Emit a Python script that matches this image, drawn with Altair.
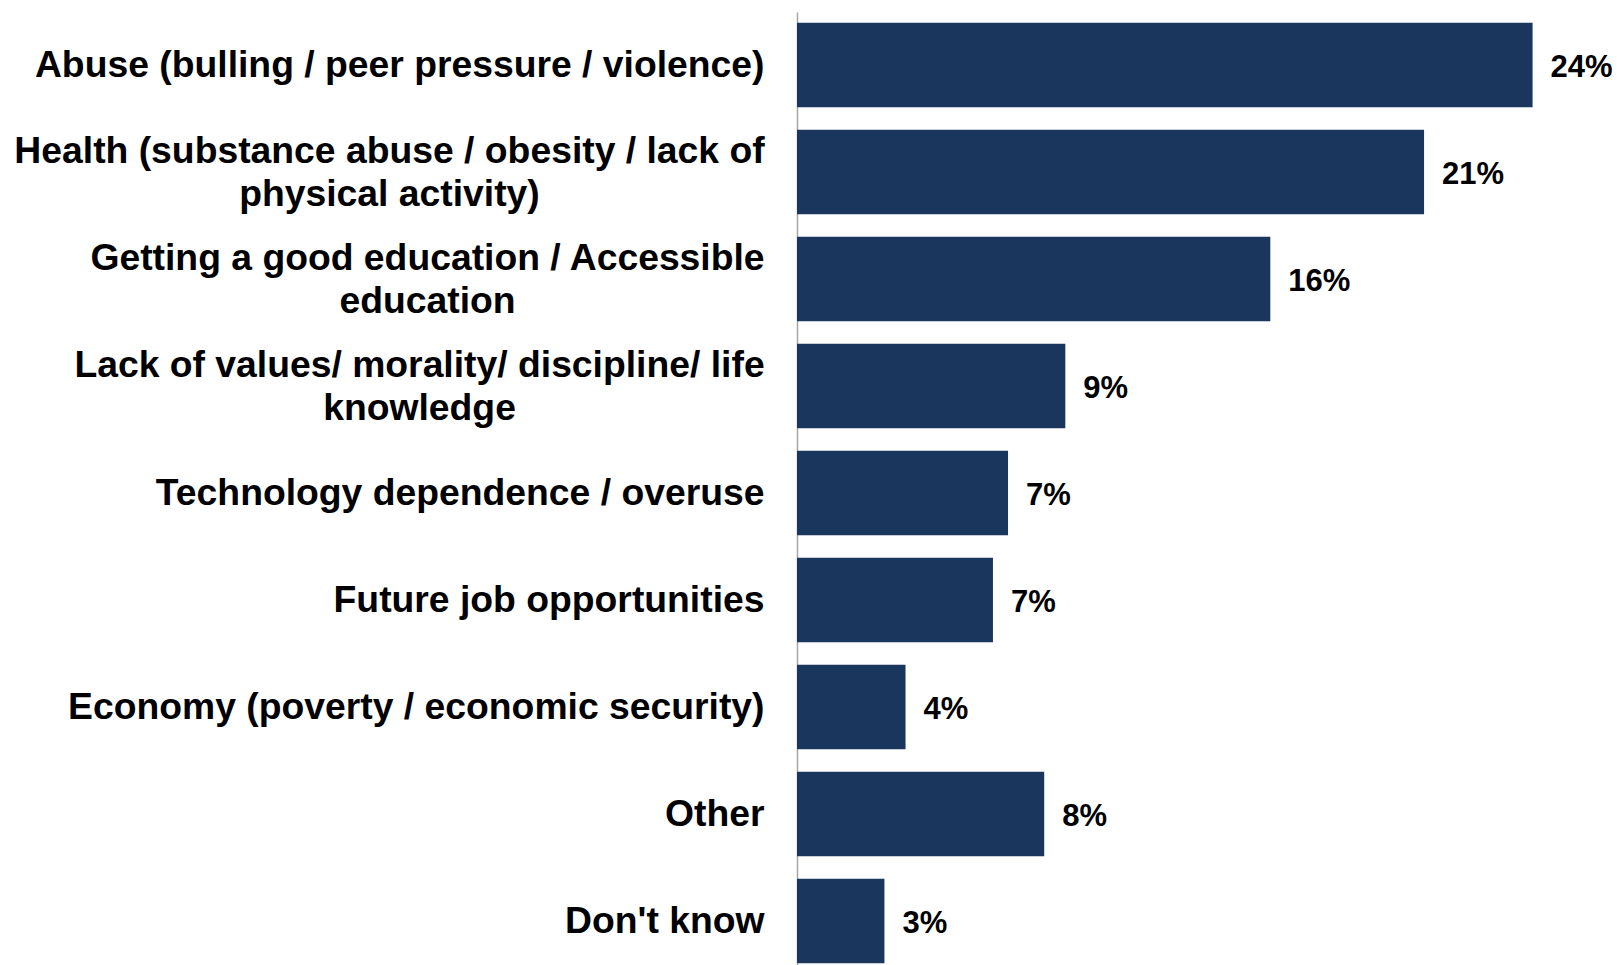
import altair as alt
import pandas as pd

line1 = [
    "Abuse (bulling / peer pressure / violence)",
    "Health (substance abuse / obesity / lack of",
    "Getting a good education / Accessible",
    "Lack of values/ morality/ discipline/ life",
    "Technology dependence / overuse",
    "Future job opportunities",
    "Economy (poverty / economic security)",
    "Other",
    "Don't know",
]
line2 = ["", "physical activity)", "education", "knowledge", "", "", "", "", ""]

values = [24.4, 20.8, 15.7, 8.9, 7.0, 6.5, 3.6, 8.2, 2.9]
value_labels = ["24%", "21%", "16%", "9%", "7%", "7%", "4%", "8%", "3%"]

categories = [a if not b else a + "\n" + b for a, b in zip(line1, line2)]

df = pd.DataFrame({"cat": categories, "value": values, "label": value_labels})

FONT = "Liberation Sans"
LABEL_SIZE = 37.3
LINE_H = 43
GAP = 33
# half of the first (widest) line's width, so the two lines are centred on each other
half_first_line = {"Health": 375, "Getting": 337, "Lack": 345}

multi_test = "indexof(datum.value, '\\n') >= 0"
pad_conditions = [
    {"test": f"indexof(datum.value, '{k}') == 0", "value": GAP + w}
    for k, w in half_first_line.items()
]

y_axis = alt.Axis(
    title=None,
    ticks=False,
    grid=False,
    domain=True,
    domainColor="#a6a6a6",
    domainWidth=1.5,
    labelFont=FONT,
    labelFontSize=LABEL_SIZE,
    labelFontWeight="bold",
    labelColor="#000000",
    labelLimit=0,
    labelPadding={"condition": pad_conditions, "value": GAP},
    labelAlign={"condition": {"test": multi_test, "value": "center"}, "value": "right"},
    labelOffset={"condition": {"test": multi_test, "value": 1.5 - LINE_H / 2}, "value": 1.5},
    labelLineHeight=LINE_H,
    labelBaseline="middle",
    labelExpr="split(datum.label, '\\n')",
)

y_scale = alt.Scale(paddingInner=0.21, paddingOuter=0.058, align=0.86)
x_scale = alt.Scale(domain=[0, 27.2], nice=False, zero=True)

bars = alt.Chart(df).mark_bar(color="#1b365d").encode(
    y=alt.Y("cat:N", sort=categories, scale=y_scale, axis=y_axis),
    x=alt.X("value:Q", scale=x_scale, axis=None),
)

texts = alt.Chart(df).mark_text(
    align="left",
    baseline="middle",
    dx=18,
    dy=3,
    font=FONT,
    fontSize=31,
    fontWeight="bold",
    color="#000000",
).encode(
    y=alt.Y("cat:N", sort=categories, scale=y_scale, axis=y_axis),
    x=alt.X("value:Q", scale=x_scale, axis=None),
    text="label:N",
)

chart = (
    alt.layer(bars, texts)
    .properties(
        width=820,
        height=953,
        autosize=alt.AutoSizeParams(type="none"),
        padding={"left": 797, "top": 12, "right": 0, "bottom": 0},
        background="#ffffff",
    )
    .configure_view(strokeWidth=0, stroke="transparent")
)

chart.save("out.html", embed_options={"renderer": "svg", "actions": False})
